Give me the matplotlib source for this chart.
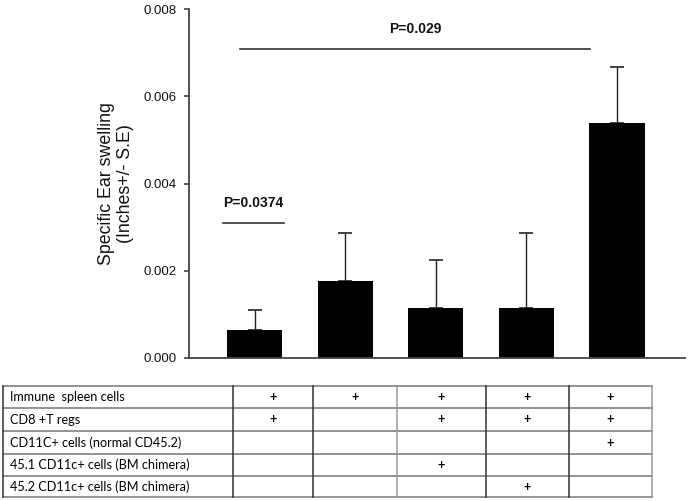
import matplotlib
matplotlib.use("Agg")
import matplotlib.pyplot as plt
import numpy as np

# ---- data ----
groups = ["G1", "G2", "G3", "G4", "G5"]
means = [0.00064, 0.00177, 0.00115, 0.00115, 0.00539]
errors = [0.00046, 0.00110, 0.00110, 0.00172, 0.00128]
yticks = [0.000, 0.002, 0.004, 0.006, 0.008]
ytick_labels = ["0.000", "0.002", "0.004", "0.006", "0.008"]
ylabel = "Specific Ear swelling\n(Inches+/- S.E)"
sig_text = ["P=0.0374", "P=0.029"]
sig_level = [0.00309, 0.00708]
sig_span = [(-0.35, 0.33), (-0.16, 3.70)]

row_labels = ["Immune  spleen cells", "CD8 +T regs", "CD11C+ cells (normal CD45.2)",
              "45.1 CD11c+ cells (BM chimera)", "45.2 CD11c+ cells (BM chimera)"]
table_marks = [
    ["+", "+", "+", "+", "+"],
    ["+", "", "+", "+", "+"],
    ["", "", "", "", "+"],
    ["", "", "+", "", ""],
    ["", "", "", "+", ""],
]

W, H = 688, 501
fig = plt.figure(figsize=(W / 100, H / 100), dpi=100)

# main axes
x0, x1, ytop, ybot = 189, 685, 9, 358
ax = fig.add_axes([x0 / W, 1 - ybot / H, (x1 - x0) / W, (ybot - ytop) / H])
x = np.arange(len(groups))
ax.bar(x, means, width=0.61, color="black", zorder=2)
ax.errorbar(x, means, yerr=[np.zeros(len(errors)), errors], fmt="none",
            ecolor="#222222", elinewidth=1.0, capsize=4.7, capthick=1.2, zorder=1)
ax.set_xlim(-0.723, 4.75)
ax.set_ylim(0, 0.008)
ax.set_yticks(yticks)
ax.set_yticklabels(ytick_labels, fontfamily="Liberation Sans", fontsize=9.5, color="#111111")
ax.set_xticks([])
for s in ["top", "right"]:
    ax.spines[s].set_visible(False)
for s in ["left", "bottom"]:
    ax.spines[s].set_color("#444444")
    ax.spines[s].set_linewidth(1.3)
ax.tick_params(axis="y", direction="out", length=3.6, width=1.2, color="#444444", pad=5)
ax.set_ylabel(ylabel, fontfamily="Liberation Sans", fontsize=12.8, color="#111111",
              linespacing=1.15)
ax.yaxis.set_label_coords((134 - x0) / (x1 - x0), 0.5)

# significance annotations
for txt, lev, (a, b) in zip(sig_text, sig_level, sig_span):
    ax.plot([a, b], [lev, lev], color="#333333", lw=1.2, clip_on=False)
    ax.text((a + b) / 2, lev + 0.00046, txt, ha="center", va="center",
            fontfamily="Liberation Sans", fontweight="bold", fontsize=10, color="#111111")

# table
tx0, tx1, ty0, ty1 = 3, 652, 386, 497
col_edges = [3, 233, 313, 397, 486, 569, 652]
row_edges = [386, 408, 431, 454, 476, 497]
tax = fig.add_axes([tx0 / W, 1 - ty1 / H, (tx1 - tx0) / W, (ty1 - ty0) / H])
tax.set_xlim(tx0, tx1)
tax.set_ylim(ty1, ty0)
tax.axis("off")
for yy in row_edges:
    tax.plot([tx0, tx1], [yy, yy], color="#8a8a8a", lw=1.3, clip_on=False)
for i, xx in enumerate(col_edges):
    c = "#9a9a9a" if i in (3, 6) else "#333333"
    tax.plot([xx, xx], [ty0, ty1], color=c, lw=1.1, clip_on=False)
for r, lab in enumerate(row_labels):
    yc = (row_edges[r] + row_edges[r + 1]) / 2
    tax.text(10, yc, lab, ha="left", va="center", fontfamily="Lato", fontsize=9.1,
             color="#000000")
    for c, m in enumerate(table_marks[r]):
        if m:
            xc = (col_edges[c + 1] + col_edges[c + 2]) / 2
            tax.text(xc, yc, m, ha="center", va="center", fontfamily="Lato",
                     fontsize=9, fontweight="bold", color="#000000")

fig.savefig("out.png", dpi=100)
